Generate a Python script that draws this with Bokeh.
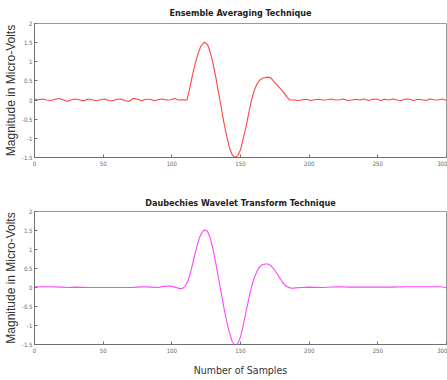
from bokeh.plotting import figure
from bokeh.layouts import column
from bokeh.models import FixedTicker, Range1d
from bokeh.embed import file_html
from bokeh.resources import INLINE

# ---- data ----
ens_x = [0, 3, 6, 9, 12, 15, 18, 21, 24, 27, 30, 33, 36, 39, 42, 45, 48, 51, 54, 57,
         60, 63, 66, 69, 72, 75, 78, 81, 84, 87, 90, 93, 96, 99, 102, 105, 108, 111,
         113, 115, 117, 119, 121, 123, 124, 126, 128, 130, 132, 134, 136, 138, 140, 142,
         144, 146, 148, 150, 152, 154, 156, 158, 160, 162, 164, 166, 168, 170, 172, 174,
         176, 178, 180, 182, 184, 186,
         189, 192, 195, 198, 201, 204, 207, 210, 213, 216, 219, 222, 225, 228, 231, 234,
         237, 240, 243, 246, 249, 252, 255, 258, 261, 264, 267, 270, 273, 276, 279, 282,
         285, 288, 291, 294, 297, 300]
ens_y = [0.02, 0.01, 0.03, 0.0, -0.01, 0.02, 0.04, 0.0, -0.03, 0.01, 0.03, 0.0, -0.02, 0.03,
         0.01, -0.02, 0.01, 0.03, -0.01, -0.02, 0.02, 0.03, -0.02, -0.03, 0.05, 0.02, -0.02,
         0.02, 0.02, -0.02, 0.01, 0.03, 0.0, 0.01, 0.04, 0.0, 0.01, 0.0,
         0.3, 0.65, 0.95, 1.2, 1.4, 1.49, 1.51, 1.45, 1.25, 0.95, 0.6, 0.2, -0.2, -0.6, -0.95,
         -1.25, -1.43, -1.5, -1.45, -1.3, -1.0, -0.7, -0.35, 0.0, 0.25, 0.42, 0.52, 0.57, 0.59,
         0.6, 0.58, 0.5, 0.42, 0.34, 0.26, 0.17, 0.07, 0.0,
         0.0, -0.01, 0.01, 0.02, -0.01, 0.01, 0.02, 0.0, 0.01, 0.03, 0.0, 0.01, 0.03, -0.01,
         0.0, 0.02, 0.0, 0.03, -0.01, 0.02, 0.03, -0.01, 0.02, 0.0, 0.03, 0.0, -0.01, 0.03,
         0.02, -0.01, 0.02, 0.01, -0.01, 0.03, 0.01, 0.0, 0.03, -0.01]

dwt_x = [0, 10, 20, 25, 30, 40, 50, 60, 70, 75, 80, 85, 90, 94, 97, 100, 103, 106, 108,
         110, 112, 114, 116, 118, 120, 122, 124, 126, 128, 130, 132, 134, 136, 138, 140,
         142, 144, 146, 148, 150, 152, 154, 156, 158, 160, 162, 164, 166, 168, 170, 172,
         174, 176, 178, 180, 182, 184, 186, 188, 190, 195, 200, 210, 220, 230, 240, 250,
         260, 270, 280, 290, 295, 300]
dwt_y = [0.02, 0.02, 0.01, 0.0, 0.01, 0.0, 0.0, 0.0, 0.0, 0.01, 0.02, 0.01, 0.0, 0.03,
         0.04, 0.03, 0.0, -0.03, -0.02,
         0.05, 0.2, 0.45, 0.75, 1.05, 1.3, 1.45, 1.52, 1.48, 1.3, 1.0, 0.65, 0.25, -0.15,
         -0.55, -0.9, -1.2, -1.42, -1.52, -1.48, -1.3, -1.0, -0.65, -0.3, 0.02, 0.25, 0.43,
         0.55, 0.6, 0.62, 0.62, 0.58, 0.5, 0.4, 0.28, 0.17, 0.08, 0.02, -0.01, -0.02, -0.01,
         0.0, 0.01, 0.0, 0.02, 0.01, 0.01, 0.01, 0.01, 0.02, 0.02, 0.02, 0.02, 0.0]

x_ticks = [0, 50, 100, 150, 200, 250, 300]
y_ticks = [-1.5, -1, -0.5, 0, 0.5, 1, 1.5, 2]
y_tick_labels = ["-1.5", "-1", "-0.5", "0", "0.5", "1", "1.5", "2"]

titles = ["Ensemble Averaging Technique", "Daubechies Wavelet Transform Technique"]
y_label = "Magnitude in Micro-Volts"
x_label = "Number of Samples"

NARROW = "DejaVu Sans Condensed, Liberation Sans, sans-serif"


def make(title, xs, ys, color, height, top, bottom, xlab, title_standoff):
    p = figure(width=447, height=height, output_backend="svg", toolbar_location=None,
               x_range=Range1d(0, 300), y_range=Range1d(-1.5, 2),
               min_border_left=32, min_border_right=1, min_border_top=top,
               min_border_bottom=bottom)
    p.title.text = title
    p.title.align = "center"
    p.title.text_font = NARROW
    p.title.text_font_style = "bold"
    p.title.text_font_size = "9px"
    p.title.text_color = "#222222"
    p.title.standoff = title_standoff
    p.line(xs, ys, color=color, line_width=1.1)
    p.xgrid.visible = False
    p.ygrid.visible = False
    p.outline_line_color = "#9a9a9a"
    for ax in (p.xaxis[0], p.yaxis[0]):
        ax.major_tick_in = 3
        ax.major_tick_out = 0
        ax.minor_tick_line_color = None
        ax.axis_line_color = "#707070"
        ax.major_tick_line_color = "#707070"
        ax.major_label_text_font_size = "6px"
        ax.major_label_text_color = "#666666"
        ax.major_label_text_font = NARROW
        ax.major_label_standoff = 3
        ax.axis_label_text_font_style = "normal"
        ax.axis_label_text_color = "#333333"
    p.yaxis.major_label_standoff = 2
    p.xaxis.ticker = FixedTicker(ticks=x_ticks)
    p.yaxis.ticker = FixedTicker(ticks=y_ticks)
    p.yaxis.major_label_overrides = {t: l for t, l in zip(y_ticks, y_tick_labels)}
    p.yaxis.axis_label = y_label
    p.yaxis.axis_label_text_font = "Liberation Sans"
    p.yaxis.axis_label_text_font_size = "12px"
    p.yaxis.axis_label_standoff = 1
    if xlab:
        p.xaxis.axis_label = xlab
        p.xaxis.axis_label_text_font = NARROW
        p.xaxis.axis_label_text_font_size = "10.5px"
        p.xaxis.axis_label_standoff = 8
    return p


p1 = make(titles[0], ens_x, ens_y, "#ff4444", 190, 23, 33, None, 11)
p2 = make(titles[1], dwt_x, dwt_y, "#ff44ff", 188, 21, 34, x_label, 7)

layout = column(p1, p2)
open("out.html", "w").write(file_html(layout, INLINE))
